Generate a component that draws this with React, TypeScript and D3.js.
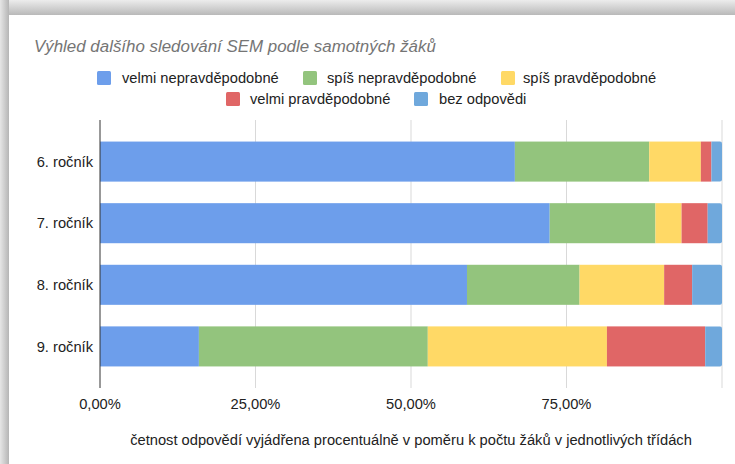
import React from "react";
import * as d3 from "d3";

const categories = ["6. ročník", "7. ročník", "8. ročník", "9. ročník"];
const seriesNames = [
  "velmi nepravděpodobné",
  "spíš nepravděpodobné",
  "spíš pravděpodobné",
  "velmi pravděpodobné",
  "bez odpovědi",
];
const seriesColors = ["#6d9eeb", "#93c47d", "#ffd966", "#e06666", "#6fa8dc"];
// percentages per category, per series (in seriesNames order)
const veryUnlikely = [66.7, 72.3, 59.0, 15.9];
const ratherUnlikely = [21.6, 17.0, 18.1, 36.8];
const ratherLikely = [8.3, 4.2, 13.6, 28.8];
const veryLikely = [1.7, 4.2, 4.5, 15.8];
const noAnswer = [1.7, 2.3, 4.8, 2.7];
const tickValues = [0, 25, 50, 75, 100];
const tickLabels = ["0,00%", "25,00%", "50,00%", "75,00%", ""];
const title = "Výhled dalšího sledování SEM podle samotných žáků";
const xTitle = "četnost odpovědí vyjádřena procentuálně v poměru k počtu žáků v jednotlivých třídách";

const W = 735;
const H = 464;
const FONT = "Arial, 'Liberation Sans', Helvetica, sans-serif";
const FS = 14.7;

export default function App() {
  const rows = categories.map((c, i) => {
    const vals = [veryUnlikely[i], ratherUnlikely[i], ratherLikely[i], veryLikely[i], noAnswer[i]];
    const total = d3.sum(vals);
    return { c, vals: vals.map((v) => (v / total) * 100) };
  });
  const keys = seriesNames.map((_, i) => String(i));
  const table = rows.map((r) => {
    const o: any = { cat: r.c };
    r.vals.forEach((v, i) => (o[String(i)] = v));
    return o;
  });
  const stacked = d3.stack().keys(keys)(table);

  const x = d3.scaleLinear().domain([0, 100]).range([100, 722]);
  const y = d3.scaleBand().domain(categories).range([120, 388]).paddingInner(0.35).paddingOuter(0.35);

  const legendRow1 = [
    { i: 0, sx: 97, tx: 122, y: 78 },
    { i: 1, sx: 303, tx: 327, y: 78 },
    { i: 2, sx: 501, tx: 523, y: 78 },
  ];
  const legendRow2 = [
    { i: 3, sx: 226, tx: 250, y: 99 },
    { i: 4, sx: 414, tx: 439, y: 99 },
  ];

  return (
    <>
      <style>{`body{margin:0;}`}</style>
      <svg width={W} height={H} style={{ display: "block" }} fontFamily={FONT}>
        <defs>
          <linearGradient id="topShade" x1="0" y1="0" x2="0" y2="1">
            <stop offset="0" stopColor="#ececec" />
            <stop offset="1" stopColor="#b9b9b9" />
          </linearGradient>
          <linearGradient id="leftShade" x1="0" y1="0" x2="1" y2="0">
            <stop offset="0" stopColor="#e6e6e6" />
            <stop offset="1" stopColor="#b5b5b5" />
          </linearGradient>
        </defs>
        <rect x={0} y={0} width={W} height={H} fill="#ffffff" />
        <rect x={0} y={0} width={W} height={15} fill="url(#topShade)" />
        <rect x={0} y={0} width={9} height={H} fill="url(#leftShade)" />
        <rect x={9} y={15} width={W - 9} height={H - 15} fill="#ffffff" />

        <text x={34} y={52} fontSize={16.9} fontStyle="italic" fill="#757575">
          {title}
        </text>

        {[...legendRow1, ...legendRow2].map((l) => (
          <g key={l.i}>
            <rect x={l.sx} y={l.y - 7} width={14} height={14} rx={1.5} fill={seriesColors[l.i]} />
            <text x={l.tx} y={l.y} dy="0.35em" fontSize={FS} fill="#222">
              {seriesNames[l.i]}
            </text>
          </g>
        ))}

        {tickValues.slice(1).map((t) => (
          <line key={t} x1={x(t)} x2={x(t)} y1={120} y2={388} stroke="#d9d9d9" strokeWidth={1} />
        ))}

        {stacked.map((s, si) =>
          s.map((d, di) => {
            const x0 = x(d[0]);
            const x1 = x(d[1]);
            const yy = y(categories[di]) as number;
            const h = y.bandwidth();
            if (si === stacked.length - 1) {
              const r = 2;
              const p = `M${x0},${yy}H${x1 - r}Q${x1},${yy} ${x1},${yy + r}V${yy + h - r}Q${x1},${yy + h} ${x1 - r},${yy + h}H${x0}Z`;
              return <path key={`${si}-${di}`} d={p} fill={seriesColors[si]} />;
            }
            return (
              <rect key={`${si}-${di}`} x={x0} y={yy} width={Math.max(0, x1 - x0)} height={h} fill={seriesColors[si]} />
            );
          })
        )}

        <line x1={x(0)} x2={x(0)} y1={120} y2={388} stroke="#333" strokeWidth={1} />

        {categories.map((c) => (
          <text
            key={c}
            x={93}
            y={(y(c) as number) + y.bandwidth() / 2}
            dy="0.35em"
            textAnchor="end"
            fontSize={FS}
            fill="#222"
          >
            {c}
          </text>
        ))}

        {tickValues.map((t, i) => (
          <text key={t} x={x(t)} y={404} dy="0.35em" textAnchor="middle" fontSize={FS} fill="#222">
            {tickLabels[i]}
          </text>
        ))}

        <text x={(x(0) + x(100)) / 2} y={440} dy="0.35em" textAnchor="middle" fontSize={FS} fill="#222">
          {xTitle}
        </text>
      </svg>
    </>
  );
}
